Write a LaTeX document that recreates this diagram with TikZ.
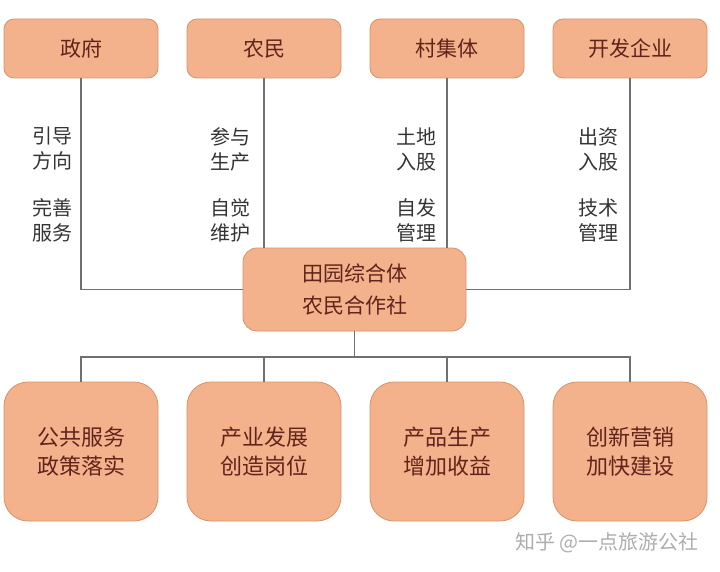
\documentclass[tikz,border=0pt]{standalone}
\usepackage{fontspec}
\newfontfamily\cjk{Noto Sans CJK SC}
\usetikzlibrary{positioning, calc}

\definecolor{boxfill}{RGB}{244,178,140}
\definecolor{boxedge}{RGB}{214,146,106}
\definecolor{boxtext}{RGB}{96,36,28}
\definecolor{labtext}{RGB}{52,52,52}
\definecolor{wire}{RGB}{112,112,112}

\begin{document}
\begin{tikzpicture}[
        x=1pt, y=-1pt,
        topbox/.style={rectangle, draw=boxedge, thick, fill=boxfill, minimum width=154pt, minimum height=59pt, rounded corners=10pt, font=\cjk\fontsize{21}{26}\selectfont, text=boxtext},
        cobox/.style={rectangle, draw=boxedge, thick, fill=boxfill, minimum width=223pt, minimum height=83pt, rounded corners=14pt, align=center, font=\cjk\fontsize{21}{32}\selectfont, text=boxtext},
        goalbox/.style={rectangle, draw=boxedge, thick, fill=boxfill, minimum width=154pt, minimum height=139pt, rounded corners=24pt, align=center, font=\cjk\fontsize{22}{29}\selectfont, text=boxtext},
        wireline/.style={draw=wire, line width=1.3pt},
        role/.style={anchor=east, align=right, inner sep=0pt, font=\cjk\fontsize{20}{25}\selectfont, text=labtext}
    ]
        \useasboundingbox (0,0) rectangle (720,572);

        \node[topbox] (gov) at (81,48.5) {政府};
        \node[topbox] (farmer) at (264,48.5) {农民};
        \node[topbox] (village) at (447,48.5) {村集体};
        \node[topbox] (firm) at (630,48.5) {开发企业};

        \node[cobox] (coop) at (354.5,289.5) {田园综合体\\农民合作社};

        \node[goalbox] (public) at (81,451.5) {公共服务\\政策落实};
        \node[goalbox] (industry) at (264,451.5) {产业发展\\创造岗位};
        \node[goalbox] (product) at (447,451.5) {产品生产\\增加收益};
        \node[goalbox] (market) at (630,451.5) {创新营销\\加快建设};

        \node[role] (gov1) at (73,149) {引导\\方向};
        \node[role] (gov2) at (73,220) {完善\\服务};
        \node[role] (farmer1) at (251,149) {参与\\生产};
        \node[role] (farmer2) at (251,220) {自觉\\维护};
        \node[role] (village1) at (437,149) {土地\\入股};
        \node[role] (village2) at (437,220) {自发\\管理};
        \node[role] (firm1) at (619,149) {出资\\入股};
        \node[role] (firm2) at (619,220) {技术\\管理};

        \coordinate (bus) at (354.5,357);

        \draw[wireline] (gov) |- (coop);
        \draw[wireline] (farmer) -- (farmer |- coop.north);
        \draw[wireline] (village) -- (village |- coop.north);
        \draw[wireline] (firm) |- (coop);
        \draw[wireline] (coop) -- (bus);
        \draw[wireline] (bus) -| (public);
        \draw[wireline] (bus) -| (industry);
        \draw[wireline] (bus) -| (product);
        \draw[wireline] (bus) -| (market);

        \node[font=\cjk\fontsize{20}{24}\selectfont, text=black!32, anchor=east] (mark) at (702,543) {知乎 @一点旅游公社};
    \end{tikzpicture}
\end{document}
